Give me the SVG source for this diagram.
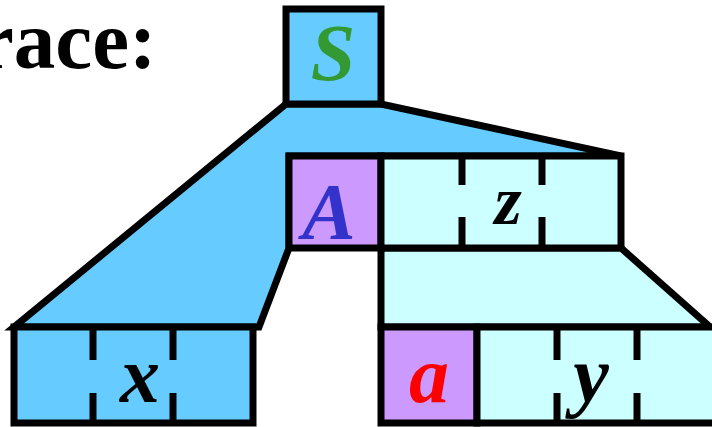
<svg xmlns="http://www.w3.org/2000/svg" width="712" height="427" viewBox="0 0 712 427">
<style>
.ln{stroke:#000;stroke-width:7;stroke-linejoin:miter;stroke-linecap:butt}
.blue{fill:#66CCFF}
.cyan{fill:#CCFFFF}
.purp{fill:#CC99FF}
.tk{stroke:#000;stroke-width:7;fill:none}
.lbl{font-family:"Liberation Serif","Times New Roman",serif;font-style:italic;font-weight:bold;font-size:80px;text-anchor:middle}
</style>
<rect width="712" height="427" fill="#fff"/>
<text x="-23" y="68" font-family="Liberation Serif, Times New Roman, serif" font-weight="bold" font-size="83" fill="#000">race:</text>
<g id="connectors">
<polygon class="ln blue" points="286,104 381,104 621,156 289,156 289,248 259,327 14,327"/>
<polygon class="ln cyan" points="381,248 621,248 710,327 381,327"/>
</g>
<g id="node-S">
<rect class="ln blue" x="286" y="9" width="95" height="95"/>
<text class="lbl" x="333" y="80" fill="#339933">S</text>
</g>
<g id="node-Az">
<rect class="ln purp" x="289" y="156" width="92" height="92"/>
<rect class="ln cyan" x="381" y="156" width="240" height="92"/>
<path class="tk" d="M462,156V185M462,217V248M542,156V185M542,217V248"/>
<text class="lbl" x="329" y="239" fill="#3333CC">A</text>
<text class="lbl" x="508" y="224" style="font-size:70px" fill="#000">z</text>
</g>
<g id="node-x">
<rect class="ln blue" x="14" y="327" width="239" height="96"/>
<path class="tk" d="M93,327V360M93,393V423M173,327V360M173,393V423"/>
<text class="lbl" x="140" y="402" fill="#000">x</text>
</g>
<g id="node-ay">
<rect class="ln purp" x="381" y="327" width="96" height="96"/>
<rect class="ln cyan" x="477" y="327" width="243" height="96"/>
<path class="tk" d="M557,327V360M557,393V423M637,327V360M637,393V423"/>
<text class="lbl" x="429" y="402" fill="#FF0000">a</text>
<text class="lbl" x="591" y="402" fill="#000">y</text>
</g>
</svg>
